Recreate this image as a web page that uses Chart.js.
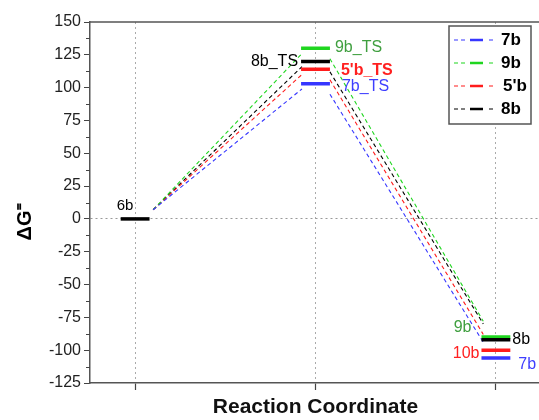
<!DOCTYPE html>
<html><head><meta charset="utf-8">
<script src="https://cdn.jsdelivr.net/npm/chart.js@4/dist/chart.umd.min.js"></script>
<style>html,body{margin:0;padding:0;overflow:hidden;background:#fff}</style>
</head><body>
<canvas id="c" width="541" height="420" style="display:block;width:541px;height:420px"></canvas>
<script>
// ---- data ----
const categories = [0, 1, 2];              // reactant, transition state, product
const series = ['7b', '9b', "5'b", '8b'];
const reactantValue = 0;
const reactantLabel = '6b';
const tsValues = [103, 130, 114, 120];
const productValues = [-106, -90, -100, -92];
const tsLabels = ['7b_TS', '9b_TS', "5'b_TS", '8b_TS'];
const productLabels = ['7b', '9b', '10b', '8b'];
const yTicks = [-125, -100, -75, -50, -25, 0, 25, 50, 75, 100, 125, 150];

// ---- styles ----
const FONT = '"Liberation Sans", Arial, sans-serif';
const lineColors = ['#3636ff', '#1fd61f', '#ff1c1c', '#000000'];
const textColors = ['#3e3eff', '#3f9f3f', '#ff2020', '#000000'];
const hw = 0.08;
const tsLabelStyle = [
  {align: 'left', dx: 12, dy: 3, bold: false},
  {align: 'left', dx: 5, dy: -1, bold: false},
  {align: 'left', dx: 11, dy: 1, bold: true},
  {align: 'right', dx: -3, dy: 0, bold: false}
];
const productLabelStyle = [
  {align: 'left', dx: 8, dy: 7},
  {align: 'right', dx: -10, dy: -9},
  {align: 'right', dx: -2, dy: 3},
  {align: 'left', dx: 2, dy: 0}
];

const datasets = [];
series.forEach((name, i) => {
  datasets.push({
    label: name,
    data: [
      {x: categories[0] + 0.1, y: reactantValue + 7},
      {x: categories[1] - 0.075, y: tsValues[i] - 4},
      {x: categories[1], y: null},
      {x: categories[1] + 0.08, y: tsValues[i] - 8},
      {x: categories[2] - 0.07, y: productValues[i] + 12}
    ],
    borderColor: lineColors[i], borderWidth: 1.1, borderDash: [4, 3],
    pointRadius: 0, showLine: true, spanGaps: false, order: 20
  });
  datasets.push({
    label: name + ' levels',
    data: [
      {x: categories[1] - hw, y: tsValues[i]},
      {x: categories[1] + hw, y: tsValues[i]},
      {x: categories[1], y: null},
      {x: categories[2] - hw, y: productValues[i]},
      {x: categories[2] + hw, y: productValues[i]}
    ],
    borderColor: lineColors[i], borderWidth: 3.5, borderCapStyle: 'butt',
    pointRadius: 0, showLine: true, spanGaps: false, order: 10 - i
  });
});
datasets.push({
  label: reactantLabel,
  data: [{x: categories[0] - hw, y: reactantValue}, {x: categories[0] + hw, y: reactantValue}],
  borderColor: '#000', borderWidth: 3.5, pointRadius: 0, showLine: true, order: 1
});

const decor = {
  id: 'decor',
  afterDraw(chart) {
    const {ctx, chartArea: a, scales: {x, y}} = chart;
    ctx.save();
    // top frame line
    ctx.strokeStyle = '#555'; ctx.lineWidth = 1.5;
    ctx.beginPath(); ctx.moveTo(a.left, a.top); ctx.lineTo(a.right, a.top); ctx.stroke();
    // minor ticks
    ctx.strokeStyle = '#444'; ctx.lineWidth = 1;
    for (let i = 0; i < yTicks.length - 1; i++) {
      const py = Math.round(y.getPixelForValue((yTicks[i] + yTicks[i + 1]) / 2)) + 0.5;
      ctx.beginPath(); ctx.moveTo(a.left - 4, py); ctx.lineTo(a.left, py); ctx.stroke();
    }
    // level labels
    ctx.textBaseline = 'middle';
    ctx.font = '15px ' + FONT;
    ctx.fillStyle = '#000'; ctx.textAlign = 'center';
    ctx.fillText(reactantLabel, x.getPixelForValue(categories[0]) - 10, y.getPixelForValue(reactantValue) - 13);
    series.forEach((name, i) => {
      const s = tsLabelStyle[i];
      ctx.font = (s.bold ? 'bold ' : '') + '16px ' + FONT;
      ctx.fillStyle = textColors[i];
      ctx.textAlign = s.align;
      const bx = x.getPixelForValue(categories[1] + (s.align === 'left' ? hw : -hw));
      ctx.fillText(tsLabels[i], bx + s.dx, y.getPixelForValue(tsValues[i]) + s.dy);
      const p = productLabelStyle[i];
      ctx.font = '16px ' + FONT;
      ctx.textAlign = p.align;
      const px = x.getPixelForValue(categories[2] + (p.align === 'left' ? hw : -hw));
      ctx.fillText(productLabels[i], px + p.dx, y.getPixelForValue(productValues[i]) + p.dy);
    });
    // legend box
    const L = 449, T = 26, W = 82, H = 98;
    ctx.fillStyle = '#fff'; ctx.fillRect(L, T, W, H);
    ctx.strokeStyle = '#555'; ctx.lineWidth = 1.5; ctx.strokeRect(L, T, W, H);
    ctx.font = 'bold 17px ' + FONT; ctx.textAlign = 'left';
    series.forEach((name, i) => {
      const ly = T + 14 + i * 23;
      ctx.strokeStyle = lineColors[i];
      ctx.lineWidth = 1.2; ctx.setLineDash([4, 3]);
      ctx.beginPath(); ctx.moveTo(L + 5, ly); ctx.lineTo(L + 46, ly); ctx.stroke();
      ctx.setLineDash([]); ctx.lineWidth = 2.5;
      ctx.fillStyle = '#fff'; ctx.fillRect(L + 19, ly - 2, 18, 4);
      ctx.beginPath(); ctx.moveTo(L + 21, ly); ctx.lineTo(L + 34, ly); ctx.stroke();
      ctx.fillStyle = '#000';
      ctx.fillText(name, L + 52 + (i === 2 ? 2 : 0), ly);
    });
    ctx.restore();
  }
};

new Chart(document.getElementById('c'), {
  type: 'scatter',
  data: {datasets},
  options: {
    responsive: false, animation: false, devicePixelRatio: 1,
    layout: {padding: {top: 22, right: 0, left: 0, bottom: 0}},
    plugins: {legend: {display: false}, tooltip: {enabled: false}},
    scales: {
      x: {
        type: 'linear', min: -0.25, max: 2.25,
        afterBuildTicks: s => { s.ticks = categories.map(v => ({value: v})); },
        afterFit: s => { s.height = 37; },
        ticks: {display: false},
        grid: {color: '#aaa', lineWidth: 1, tickLength: 7, tickColor: '#444', tickBorderDash: [], tickWidth: 1.2},
        border: {color: '#555', width: 1.5, dash: [2, 3]},
        title: {display: true, text: 'Reaction Coordinate', color: '#111',
          font: {family: FONT, size: 21, weight: 'bold'}, padding: {top: 0, bottom: 0}}
      },
      y: {
        min: -125, max: 150,
        afterBuildTicks: s => { s.ticks = yTicks.map(v => ({value: v})); },
        afterFit: s => { s.width = 90; },
        ticks: {color: '#222', font: {family: FONT, size: 16}, padding: 3},
        grid: {
          color: c => (c.tick && c.tick.value === 0) ? '#999' : 'rgba(0,0,0,0)',
          lineWidth: 1, tickLength: 6, tickColor: '#444', tickBorderDash: []
        },
        border: {color: '#555', width: 1.5, dash: [2, 3]},
        title: {display: true, text: 'ΔG⁼       ', color: '#000',
          font: {family: FONT, size: 20, weight: 'bold'}, padding: {top: 13, bottom: 0}}
      }
    }
  },
  plugins: [decor]
});
</script>
</body></html>
